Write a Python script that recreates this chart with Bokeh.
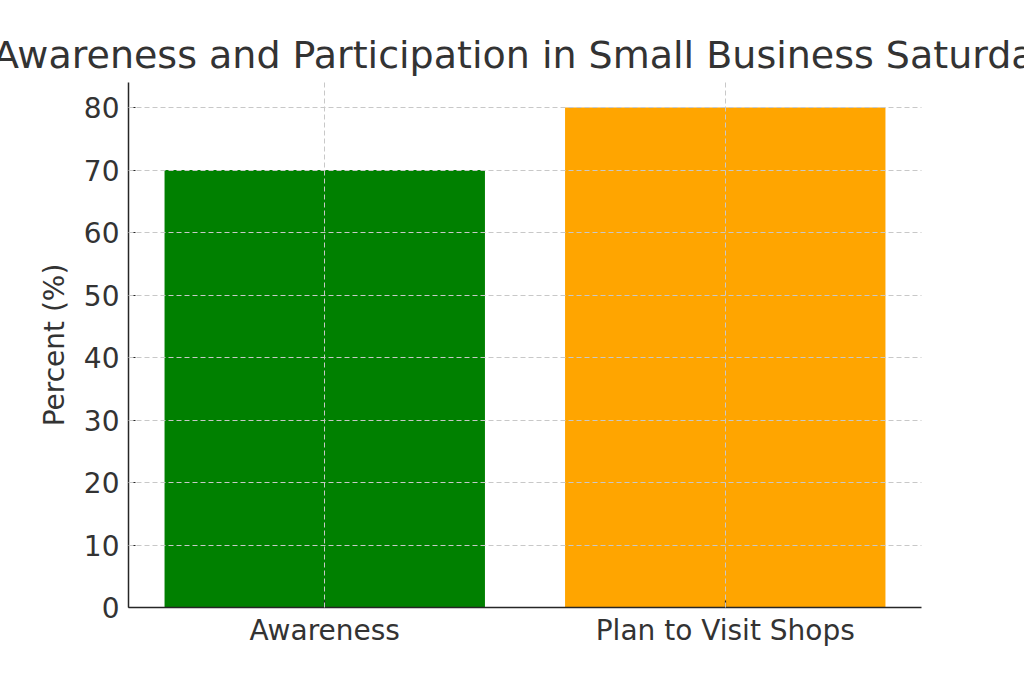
from bokeh.plotting import figure
from bokeh.models import Range1d, FixedTicker, ColumnDataSource
from bokeh.embed import file_html
from bokeh.resources import INLINE

categories = ["Awareness", "Plan to Visit Shops"]
percent = [70, 80]
colors = ["#008000", "#FFA500"]
y_ticks = [0, 10, 20, 30, 40, 50, 60, 70, 80]

xs = list(range(len(categories)))
src = ColumnDataSource(dict(x=xs, top=percent, color=colors))

FONT = "DejaVu Sans"
TXT = "#333333"

p = figure(width=1024, height=683, output_backend="svg", toolbar_location=None,
           x_range=Range1d(-0.49, 1.49), y_range=Range1d(0, 84),
           min_border_left=128, min_border_right=103, min_border_top=82, min_border_bottom=76,
           title="Awareness and Participation in Small Business Saturday")
p.outline_line_color = None
p.background_fill_color = "white"
p.border_fill_color = "white"

p.vbar(x="x", top="top", width=0.8, color="color", source=src, line_color=None)

p.title.text_font = FONT
p.title.text_font_size = "38px"
p.title.text_font_style = "normal"
p.title.text_color = TXT
p.title.align = "center"
p.title.standoff = 12

for ax in (p.xaxis[0], p.yaxis[0]):
    ax.axis_line_color = "#262626"
    ax.axis_line_width = 1.5
    ax.major_tick_line_color = "#262626"
    ax.major_tick_line_width = 1.2
    ax.major_tick_in = 7
    ax.major_tick_out = 0
    ax.minor_tick_line_color = None
    ax.major_label_text_font = FONT
    ax.major_label_text_font_size = "28px"
    ax.major_label_text_color = TXT
    ax.axis_label_text_font = FONT
    ax.axis_label_text_font_style = "normal"
    ax.axis_label_text_color = TXT
    ax.axis_label_text_font_size = "28px"

p.xaxis.ticker = FixedTicker(ticks=xs)
p.xaxis.major_label_overrides = {i: c for i, c in enumerate(categories)}
p.xaxis.major_label_standoff = 6
p.yaxis.ticker = FixedTicker(ticks=y_ticks)
p.yaxis.axis_label = "Percent (%)"
p.yaxis.major_label_standoff = 9
p.yaxis.axis_label_standoff = 10

for g in (p.xgrid[0], p.ygrid[0]):
    g.grid_line_color = "#c8c8c8"
    g.grid_line_dash = "5 3"
    g.grid_line_width = 1
    g.level = "overlay"
p.xgrid.ticker = FixedTicker(ticks=xs)
p.ygrid.ticker = FixedTicker(ticks=y_ticks)

open("out.html", "w").write(file_html(p, INLINE))
